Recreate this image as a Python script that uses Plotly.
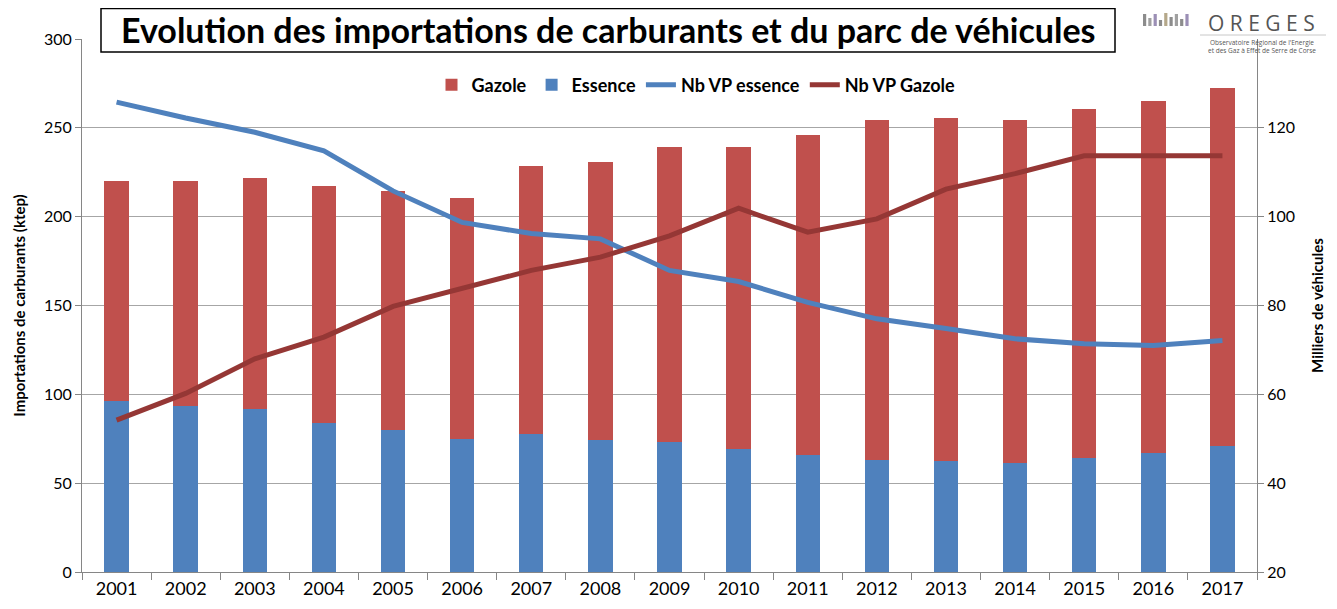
import plotly.graph_objects as go

years = [str(y) for y in range(2001, 2018)]
essence = [96.0, 93.7, 91.5, 84.0, 80.0, 75.0, 77.7, 74.3, 73.0, 69.0, 66.0, 63.0, 62.2, 61.4, 64.4, 67.0, 71.0]
gazole = [124.0, 126.3, 130.5, 133.0, 134.7, 135.5, 151.1, 156.2, 166.0, 170.0, 180.0, 191.4, 193.5, 193.0, 196.3, 198.0, 201.4]
vp_essence = [125.8, 122.2, 119.0, 114.8, 105.8, 98.7, 96.2, 95.0, 87.9, 85.4, 80.7, 77.0, 74.8, 72.5, 71.4, 71.0, 72.1]
vp_gazole = [54.2, 60.2, 68.0, 72.9, 79.8, 83.8, 87.9, 90.9, 95.7, 101.9, 96.5, 99.5, 106.2, 109.7, 113.7, 113.7, 113.7]

FONT = "Lato"
fig = go.Figure()
fig.add_trace(go.Bar(x=years, y=essence, name="Essence", marker=dict(color="#4F81BD", line=dict(width=0)), legendrank=2))
fig.add_trace(go.Bar(x=years, y=gazole, name="Gazole", marker=dict(color="#C0504D", line=dict(width=0)), legendrank=1))
fig.add_trace(go.Scatter(x=years, y=vp_essence, name="Nb VP essence", yaxis="y2", mode="lines",
                         line=dict(color="#4F81BD", width=5), legendrank=3))
fig.add_trace(go.Scatter(x=years, y=vp_gazole, name="Nb VP Gazole", yaxis="y2", mode="lines",
                         line=dict(color="#953735", width=5), legendrank=4))

# page body has an 8px offset; plot area should sit at x 82..1257, y 39..572 on screen
def px(x):
    return (x - 82) / 1175

def py(y):
    return (572 - y) / 533

shapes = [dict(type="rect", xref="paper", yref="paper", x0=px(101), x1=px(1115), y0=py(52), y1=py(8.5),
               line=dict(color="black", width=1.5), fillcolor="white", layer="above")]
# logo bars
bar_cols = ["#8c8c8c", "#a0a0a0", "#9b8fb5", "#8c8c8c", "#b5a88a", "#8c8c8c", "#a0a0a0", "#8c8c8c", "#9b8fb5"]
bar_tops = [14, 18, 14, 20, 13, 17, 14, 19, 14]
for i, (c, t) in enumerate(zip(bar_cols, bar_tops)):
    x0 = 1143 + i * 5.3
    shapes.append(dict(type="rect", xref="paper", yref="paper", x0=px(x0), x1=px(x0 + 3.2), y0=py(26), y1=py(t),
                       line=dict(width=0), fillcolor=c, layer="above"))
shapes.append(dict(type="line", xref="paper", yref="paper", x0=px(1200), x1=px(1326), y0=py(35), y1=py(35),
                   line=dict(color="#c8c8c8", width=1)))

annotations = [
    dict(text="<b>Evolution des importations de carburants et du parc de véhicules</b>", xref="paper", yref="paper",
         x=px(608), y=py(30), xanchor="center", yanchor="middle", showarrow=False,
         font=dict(family=FONT, size=34, color="black")),
    dict(text="O R E G E S", xref="paper", yref="paper", x=px(1261), y=py(23), xanchor="center", yanchor="middle",
         showarrow=False, borderpad=0, font=dict(family="Open Sans", size=21, color="#555555")),
    dict(text="Observatoire Régional de l'Energie<br>et des Gaz à Effet de Serre de Corse", xref="paper", yref="paper",
         x=px(1262), y=py(47), xanchor="center", yanchor="middle", showarrow=False,
         font=dict(family="Open Sans", size=6.5, color="#555555")),
]

fig.update_layout(
    width=1329, height=601,
    margin=dict(l=74, r=80, t=31, b=37, autoexpand=False),
    paper_bgcolor="white", plot_bgcolor="white",
    barmode="stack", bargap=0.647,
    font=dict(family=FONT, size=16, color="black"),
    showlegend=True,
    legend=dict(orientation="h", traceorder="normal", x=px(696), y=py(85), xanchor="center", yanchor="middle",
                font=dict(family=FONT, size=18, color="black", weight="bold"), bgcolor="rgba(0,0,0,0)",
                itemwidth=30, tracegroupgap=0),
    xaxis=dict(type="category", showline=True, linecolor="#868686", linewidth=1, ticks="outside",
               tickson="boundaries", ticklen=7, tickcolor="#868686", tickfont=dict(size=18, family=FONT),
               showgrid=False, zeroline=False, automargin=False),
    yaxis=dict(range=[0, 300], dtick=50, showline=True, linecolor="#868686", linewidth=1, ticks="outside",
               ticklen=6, tickcolor="#868686", showgrid=True, gridcolor="#a6a6a6", gridwidth=1, zeroline=False,
               tickfont=dict(size=16, family=FONT), automargin=False,
               title=dict(text="<b>Importations de carburants (ktep)</b>", font=dict(size=15, family=FONT), standoff=14)),
    yaxis2=dict(range=[20, 140], dtick=20, overlaying="y", side="right", showline=True, linecolor="#868686",
                linewidth=1, ticks="outside", ticklen=6, tickcolor="#868686", showgrid=False, zeroline=False,
                tickvals=[20, 40, 60, 80, 100, 120], tickfont=dict(size=16, family=FONT), automargin=False,
                title=dict(text="<b>Milliers de véhicules</b>", font=dict(size=15, family=FONT), standoff=18)),
    shapes=shapes,
    annotations=annotations,
)

fig.write_html("out.html")
